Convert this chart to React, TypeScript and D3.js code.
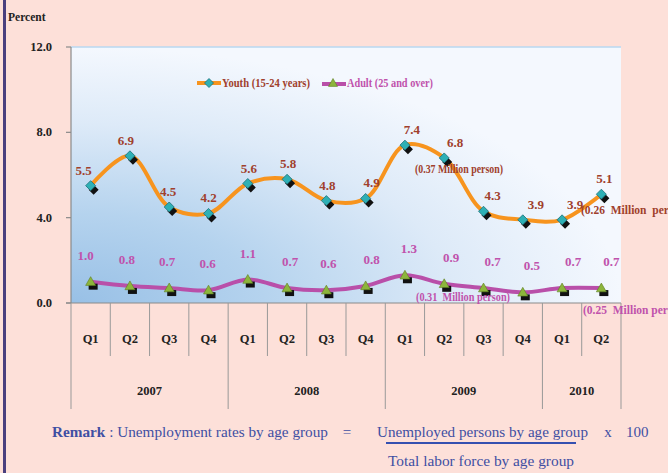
import React from "react";
import * as d3 from "d3";

const quarters = ["Q1","Q2","Q3","Q4","Q1","Q2","Q3","Q4","Q1","Q2","Q3","Q4","Q1","Q2"];
const years = ["2007","2008","2009","2010"];
const yearSpans = [4, 4, 4, 2];
const youth = [5.5, 6.9, 4.5, 4.2, 5.6, 5.8, 4.8, 4.9, 7.4, 6.8, 4.3, 3.9, 3.9, 5.1];
const adult = [1.0, 0.8, 0.7, 0.6, 1.1, 0.7, 0.6, 0.8, 1.3, 0.9, 0.7, 0.5, 0.7, 0.7];
const yTicks = [0, 4, 8, 12];
const youthLabelDx = [-7, -4, -1, 0, 1, 1, 1, 6, 7, 11, 9, 13, 13, 3];
const adultLabelDx = [-5, -3, -2, -1, 0, 3, 2, 6, 4, 7, 9, 9, 11, 10];

const W = 668, H = 473;
const L = 71, R = 621, T = 47, B = 303;
const FONT = "'Liberation Serif', 'Times New Roman', serif";
const BROWN = "#A0402C";
const PINK = "#C052AC";
const BLUE = "#3F4FA3";

export default function App() {
  const x = d3.scaleBand<number>().domain(d3.range(quarters.length)).range([L, R]).padding(0);
  const y = d3.scaleLinear().domain([0, 12]).range([B, T]);
  const cx = (i: number) => (x(i) as number) + x.bandwidth() / 2;
  const line = d3.line<number>().x((_, i) => cx(i)).y((d) => y(d)).curve(d3.curveCatmullRom.alpha(0.5));

  const bounds = d3.range(quarters.length + 1).map((i) => L + i * x.bandwidth());
  const yearBounds = [0];
  yearSpans.forEach((s) => yearBounds.push(yearBounds[yearBounds.length - 1] + s));

  const diamond = (px: number, py: number, r: number) => `M${px},${py - r}L${px + r},${py}L${px},${py + r}L${px - r},${py}Z`;
  const tri = (px: number, py: number, r: number) => `M${px},${py - r}L${px + r},${py + r * 0.75}L${px - r},${py + r * 0.75}Z`;

  return (
    <svg width={W} height={H} style={{ position: "absolute", left: 0, top: 0, display: "block" }}>
      <defs>
        <radialGradient id="pg" cx="0" cy="1" r="1.0" gradientUnits="objectBoundingBox">
          <stop offset="0" stopColor="#98C0E6" />
          <stop offset="0.35" stopColor="#B5D3EE" />
          <stop offset="0.7" stopColor="#DDEAF8" />
          <stop offset="1" stopColor="#F4F8FE" />
        </radialGradient>
      </defs>
      <rect x={0} y={0} width={W} height={H} fill="#FDE0D9" />
      <rect x={3} y={0} width={3} height={H} fill="#4A3F7E" />
      <text x={8} y={21} fontFamily={FONT} fontWeight="bold" fontSize={11.5} fill="#222">Percent</text>

      <rect x={L} y={T} width={R - L} height={B - T} fill="url(#pg)" />
      <line x1={L} x2={R} y1={T} y2={T} stroke="#B8D8F0" strokeWidth={1.5} />
      <line x1={L} x2={L} y1={T} y2={B} stroke="#8A8A8A" strokeWidth={1.2} />
      {yTicks.map((t) => (
        <g key={t}>
          <line x1={L - 5} x2={L} y1={y(t)} y2={y(t)} stroke="#8A8A8A" strokeWidth={1.2} />
          <text x={52} y={y(t) + 4} textAnchor="end" fontFamily={FONT} fontWeight="bold" fontSize={12.5} fill="#222">{t.toFixed(1)}</text>
        </g>
      ))}
      <line x1={L - 5} x2={R} y1={B} y2={B} stroke="#8A8A8A" strokeWidth={1.2} />

      {bounds.map((bx, i) => {
        const isYear = yearBounds.includes(i);
        return <line key={i} x1={bx} x2={bx} y1={B} y2={isYear ? 409 : 356} stroke="#999" strokeWidth={1} />;
      })}
      {quarters.map((q, i) => (
        <text key={i} x={cx(i)} y={343} textAnchor="middle" fontFamily={FONT} fontWeight="bold" fontSize={12.5} fill="#222">{q}</text>
      ))}
      {years.map((yr, k) => {
        const mid = (bounds[yearBounds[k]] + bounds[yearBounds[k + 1]]) / 2;
        return <text key={yr} x={mid} y={395} textAnchor="middle" fontFamily={FONT} fontWeight="bold" fontSize={12.5} fill="#222">{yr}</text>;
      })}

      {/* lines */}
      <path d={line(youth) || ""} fill="none" stroke="#F7941E" strokeWidth={4} />
      <path d={line(adult) || ""} fill="none" stroke="#B94FA9" strokeWidth={4} />

      {/* markers */}
      {youth.map((v, i) => (
        <g key={"ym" + i}>
          <path d={diamond(cx(i) + 3, y(v) + 4, 5)} fill="#111" />
          <path d={diamond(cx(i), y(v), 5)} fill="#2EB0B5" stroke="#1C6E78" strokeWidth={0.8} />
        </g>
      ))}
      {adult.map((v, i) => (
        <g key={"am" + i}>
          <rect x={cx(i) - 2} y={y(v) + 2} width={9} height={6} fill="#111" />
          <path d={tri(cx(i), y(v), 5)} fill="#8DB53C" stroke="#5E7F22" strokeWidth={0.6} />
        </g>
      ))}

      {/* value labels */}
      {youth.map((v, i) => (
        <text key={"yl" + i} x={cx(i) + youthLabelDx[i]} y={y(v) - 11} textAnchor="middle" fontFamily={FONT} fontWeight="bold" fontSize={13} fill={BROWN}>{v.toFixed(1)}</text>
      ))}
      {adult.map((v, i) => (
        <text key={"al" + i} x={cx(i) + adultLabelDx[i]} y={y(v) - 22} textAnchor="middle" fontFamily={FONT} fontWeight="bold" fontSize={13} fill={PINK}>{v.toFixed(1)}</text>
      ))}

      {/* annotations */}
      <text x={415} y={173} fontFamily={FONT} fontWeight="bold" fontSize={11.5} fill={BROWN} textLength={88} lengthAdjust="spacingAndGlyphs">(0.37 Million person)</text>
      <text x={581} y={214} fontFamily={FONT} fontWeight="bold" fontSize={11.5} fill={BROWN} xmlSpace="preserve">(0.26  Million  person)</text>
      <text x={416} y={301} fontFamily={FONT} fontWeight="bold" fontSize={11.5} fill={PINK} textLength={94} lengthAdjust="spacingAndGlyphs" xmlSpace="preserve">(0.31  Million person)</text>
      <text x={583} y={314} fontFamily={FONT} fontWeight="bold" fontSize={11.5} fill={PINK} xmlSpace="preserve">(0.25  Million person)</text>

      {/* legend */}
      <g>
        <line x1={197} x2={221} y1={83} y2={83} stroke="#F7941E" strokeWidth={4} />
        <path d={diamond(209, 83, 4.5)} fill="#2EB0B5" stroke="#1C6E78" strokeWidth={0.8} />
        <text x={222} y={87} fontFamily={FONT} fontWeight="bold" fontSize={11.5} fill={BROWN} textLength={88} lengthAdjust="spacingAndGlyphs">Youth (15-24 years)</text>
        <line x1={322} x2={346} y1={84} y2={84} stroke="#B94FA9" strokeWidth={4} />
        <path d={tri(333, 83, 4.5)} fill="#8DB53C" stroke="#5E7F22" strokeWidth={0.6} />
        <text x={347} y={87} fontFamily={FONT} fontWeight="bold" fontSize={11.5} fill={PINK} textLength={86} lengthAdjust="spacingAndGlyphs">Adult (25 and over)</text>
      </g>

      {/* remark */}
      <text x={52} y={437} fontFamily={FONT} fontSize={15} fill={BLUE} textLength={276} lengthAdjust="spacingAndGlyphs">
        <tspan fontWeight="bold">Remark</tspan>
        <tspan> : Unemployment rates by age group</tspan>
      </text>
      <text x={347} y={437} textAnchor="middle" fontFamily={FONT} fontSize={15} fill={BLUE}>=</text>
      <text x={377} y={437} fontFamily={FONT} fontSize={15} fill={BLUE} textLength={211} lengthAdjust="spacingAndGlyphs">Unemployed persons by age group</text>
      <text x={608} y={437} textAnchor="middle" fontFamily={FONT} fontSize={15} fill={BLUE}>x</text>
      <text x={626} y={437} fontFamily={FONT} fontSize={15} fill={BLUE}>100</text>
      <line x1={386} x2={576} y1={443} y2={443} stroke="#3550B0" strokeWidth={2} />
      <text x={388} y={466} fontFamily={FONT} fontSize={15} fill={BLUE} textLength={186} lengthAdjust="spacingAndGlyphs">Total labor force by age group</text>
    </svg>
  );
}
